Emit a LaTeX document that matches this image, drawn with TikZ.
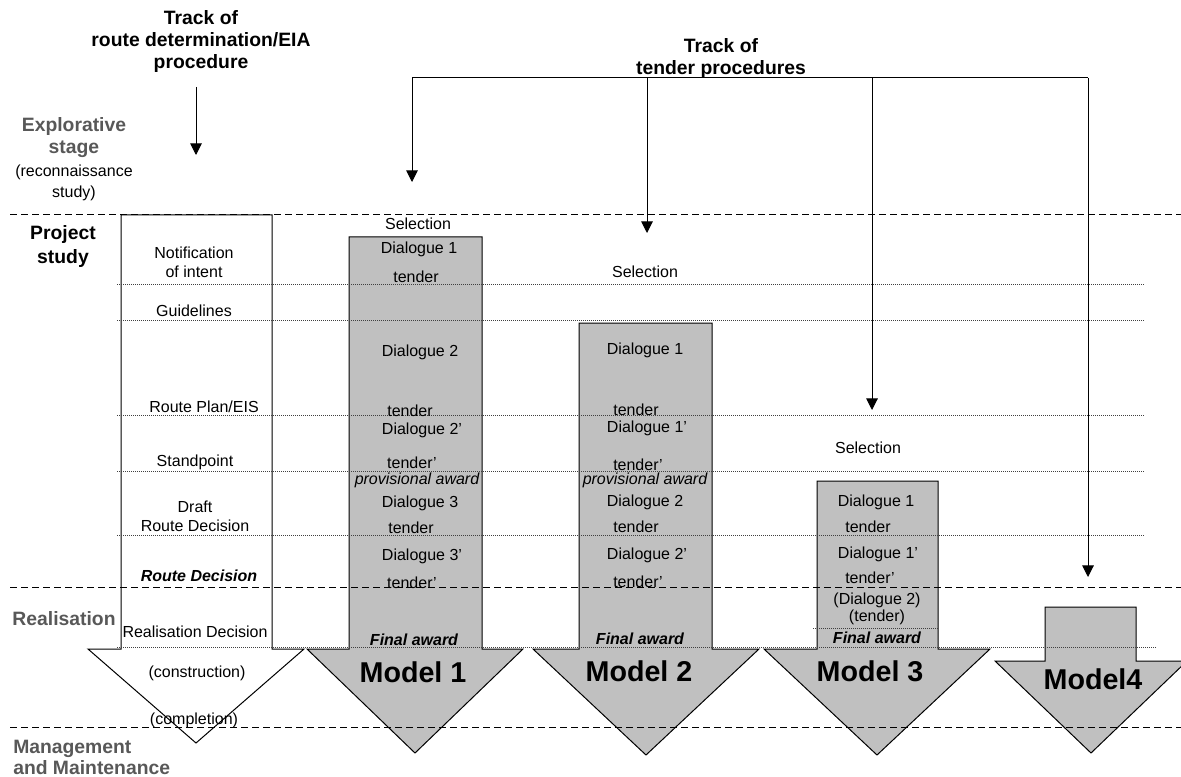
\documentclass[tikz,border=0pt]{standalone}
\usepackage{fontspec}
\setmainfont{Liberation Sans}
\usetikzlibrary{arrows.meta}
\definecolor{boxgray}{RGB}{192,192,192}
\definecolor{stagegray}{RGB}{88,88,88}
\begin{document}
\begin{tikzpicture}[x=0.75pt,y=-0.75pt,
  txt/.style={inner sep=0pt, align=center, font=\fontsize{12}{14.25}\selectfont},
  itx/.style={txt, font=\fontsize{12}{14.25}\selectfont\itshape},
  bitx/.style={txt, font=\fontsize{12}{14.25}\selectfont\bfseries\itshape},
  hdr/.style={inner sep=0pt, align=center, font=\fontsize{14.5}{16.5}\selectfont\bfseries},
  stagehdr/.style={hdr, text=stagegray},
  modellbl/.style={inner sep=0pt, font=\fontsize{21.5}{24}\selectfont\bfseries},
  graybox/.style={fill=boxgray, draw=black, line width=0.75pt, line join=miter},
  whitebox/.style={fill=white, draw=black, line width=0.75pt, line join=miter},
  dotline/.style={draw=black!75, line width=0.45pt, dash pattern=on 0.75pt off 0.75pt},
  dashline/.style={draw=black, line width=0.75pt, dash pattern=on 5.25pt off 3pt},
  conn/.style={draw=black, line width=0.75pt},
  arr/.style={conn, -{Triangle[width=8.75pt,length=8.75pt]}}
]
\useasboundingbox (0,0) rectangle (1181,777);
\clip (0,0) rectangle (1181,777);

% ---- big arrows ----
\path[whitebox] (121,215) -- (272,215) -- (272,649) -- (304,649) -- (196,743) -- (88,649) -- (121,649) -- cycle;
\path[graybox] (349,237) -- (482,237) -- (482,649) -- (523,649) -- (415,753) -- (307,649) -- (349,649) -- cycle;
\path[graybox] (579,323) -- (712,323) -- (712,649) -- (759,649) -- (646,755) -- (533,649) -- (579,649) -- cycle;
\path[graybox] (817,481) -- (938,481) -- (938,649) -- (990,649) -- (877,755) -- (764,649) -- (817,649) -- cycle;
\path[graybox] (1045,607) -- (1136,607) -- (1136,661) -- (1187,661) -- (1091,753) -- (995,661) -- (1045,661) -- cycle;

% ---- dotted rows ----
\foreach \yy in {284,320,415,471,535} {\path[dotline] (117,\yy) -- (1145,\yy);}
\path[dotline] (117,647) -- (1157,647);
\path[dotline] (813,628) -- (938,628);

% ---- dashed stage lines ----
\foreach \yy in {215,587,727} {\path[dashline] (10,\yy) -- (1181,\yy);}

% ---- headers ----
\node[hdr] (trk1) at (201,42) {Track of\\route determination/EIA\\procedure};
\node[hdr] (trk2) at (721,59) {Track of\\tender procedures};

\node[stagehdr] (st1) at (74,138) {Explorative\\stage};
\node[txt, font=\fontsize{12}{15.75}\selectfont] (st1b) at (74,183) {(reconnaissance\\study)};
\node[hdr, font=\fontsize{14.5}{18}\selectfont\bfseries] (st2) at (63,247) {Project\\study};
\node[stagehdr] (st3) at (64,619) {Realisation};
\node[stagehdr, anchor=west, align=left, font=\fontsize{14.5}{15.75}\selectfont\bfseries] (st4) at (13,757) {Management\\and Maintenance};

% ---- connectors ----
\coordinate (a0s) at (196,87);
\coordinate (a0e) at (196,155);
\draw[arr] (a0s) -- (a0e);

\coordinate (br1) at (412,78);
\coordinate (br2) at (647,78);
\coordinate (br3) at (872,78);
\coordinate (br4) at (1088,78);
\coordinate (t1) at (412,182);
\coordinate (t2) at (647,233);
\coordinate (t3) at (872,410);
\coordinate (t4) at (1088,577);
\draw[conn] (br1) -- (br4);
\draw[arr] (br1) -- (t1);
\draw[arr] (br2) -- (t2);
\draw[arr] (br3) -- (t3);
\draw[arr] (br4) -- (t4);

% ---- route determination column ----
\node[txt] (r1) at (194,262) {Notification\\of intent};
\node[txt] (r2) at (194,311) {Guidelines};
\node[txt] (r3) at (204,407) {Route Plan/EIS};
\node[txt] (r4) at (195,462) {Standpoint};
\node[txt] (r5) at (195,516) {Draft\\Route Decision};
\node[bitx] (r6) at (199,576) {Route Decision};
\node[txt] (r7) at (195,632) {Realisation Decision};
\node[txt] (r8) at (197,673) {(construction)};
\node[txt] (r9) at (194,720) {(completion)};

% ---- Model 1 ----
\node[txt] (m1a) at (418,224) {Selection};
\node[txt] (m1b) at (419,249) {Dialogue 1};
\node[txt] (m1c) at (416,277) {tender};
\node[txt] (m1d) at (420,352) {Dialogue 2};
\node[txt] (m1e) at (410,411) {tender};
\node[txt] (m1f) at (422,430) {Dialogue 2’};
\node[txt] (m1g) at (412,463) {tender’};
\node[itx] (m1h) at (417,480) {provisional award};
\node[txt] (m1i) at (420,503) {Dialogue 3};
\node[txt] (m1j) at (411,528) {tender};
\node[txt] (m1k) at (422,556) {Dialogue 3’};
\node[txt] (m1l) at (412,583) {tender’};
\node[bitx] (m1m) at (414,640) {Final award};
\node[modellbl] (m1) at (413,672) {Model 1};

% ---- Model 2 ----
\node[txt] (m2a) at (645,272) {Selection};
\node[txt] (m2b) at (645,350) {Dialogue 1};
\node[txt] (m2c) at (636,410) {tender};
\node[txt] (m2d) at (647,428) {Dialogue 1’};
\node[txt] (m2e) at (638,465) {tender’};
\node[itx] (m2f) at (645,480) {provisional award};
\node[txt] (m2g) at (645,502) {Dialogue 2};
\node[txt] (m2h) at (636,527) {tender};
\node[txt] (m2i) at (647,555) {Dialogue 2’};
\node[txt] (m2j) at (638,582) {tender’};
\node[bitx] (m2k) at (640,639) {Final award};
\node[modellbl] (m2) at (639,671) {Model 2};

% ---- Model 3 ----
\node[txt] (m3a) at (868,448) {Selection};
\node[txt] (m3b) at (876,502) {Dialogue 1};
\node[txt] (m3c) at (868,527) {tender};
\node[txt] (m3d) at (878,554) {Dialogue 1’};
\node[txt] (m3e) at (870,578) {tender’};
\node[txt, font=\fontsize{12}{13}\selectfont] (m3f) at (877,609) {(Dialogue 2)\\(tender)};
\node[bitx] (m3g) at (877,638) {Final award};
\node[modellbl] (m3) at (870,671) {Model 3};

% ---- Model 4 ----
\node[modellbl] (m4) at (1093,679) {Model4};
\end{tikzpicture}
\end{document}
